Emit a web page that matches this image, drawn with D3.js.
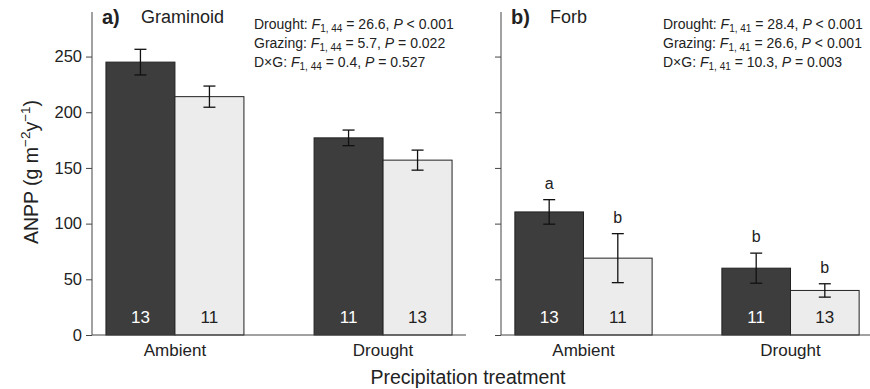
<!DOCTYPE html>
<html>
<head>
<meta charset="utf-8">
<script src="https://cdn.jsdelivr.net/npm/d3@7"></script>
<style>
  body { margin: 0; background: #fff; }
  svg { display: block; }
  text { font-family: "Liberation Sans", Arial, Helvetica, sans-serif; fill: #222; }
</style>
</head>
<body>
<div id="chart"></div>
<script>
// data
const treatments = ["Ambient", "Drought"];
const grazing = ["Grazed", "Ungrazed"];   // dark, light
const yTicks = [0, 50, 100, 150, 200, 250];

const graminoidMean = [[245, 214], [177, 157]];
const graminoidSE = [[11.5, 9.5], [7, 9]];
const graminoidN = [[13, 11], [11, 13]];

const forbMean = [[110.5, 69], [60, 40]];
const forbSE = [[11, 22], [13.5, 6]];
const forbN = [[13, 11], [11, 13]];
const forbLetters = [["a", "b"], ["b", "b"]];

const graminoidStats = [
  ["Drought:", "1, 44", "= 26.6,", "< 0.001"],
  ["Grazing:", "1, 44", "= 5.7,", "= 0.022"],
  ["D\u00d7G:", "1, 44", "= 0.4,", "= 0.527"]
];
const forbStats = [
  ["Drought:", "1, 41", "= 28.4,", "< 0.001"],
  ["Grazing:", "1, 41", "= 26.6,", "< 0.001"],
  ["D\u00d7G:", "1, 41", "= 10.3,", "= 0.003"]
];

const width = 870;
const height = 389;
const fills = ["#3d3d3d", "#ececec"];

const svg = d3.select("#chart").append("svg")
    .attr("width", width)
    .attr("height", height);

// shared y scale
const y = d3.scaleLinear().domain([0, 290]).range([335, 12]);

function panel(x0, w, mean, se, n, letters, tag, name, stats, statsX, showLabels) {
  const g = svg.append("g").attr("transform", "translate(" + x0 + ",0)");

  const x = d3.scaleBand().domain(treatments).range([0, w])
      .paddingInner(0.337).paddingOuter(0.067);
  const xs = d3.scaleBand().domain(grazing).range([0, x.bandwidth()]);

  // y axis
  const yaxis = d3.axisLeft(y).tickValues(yTicks).tickSize(6).tickPadding(4)
      .tickFormat(showLabels ? d3.format("d") : "");
  const ya = g.append("g").call(yaxis);
  ya.select(".domain").remove();
  ya.selectAll(".tick line").attr("stroke", "#444");
  ya.selectAll(".tick text").style("font-size", "16.5px").attr("fill", "#222")
      .style("font-family", "Liberation Sans, Arial, sans-serif");
  g.append("line").attr("x1", 0).attr("x2", 0)
      .attr("y1", y(290)).attr("y2", y(0)).attr("stroke", "#444");

  // bars
  const rows = [];
  treatments.forEach((t, i) => grazing.forEach((s, j) => rows.push({
    t: t, s: s, j: j, m: mean[i][j], e: se[i][j], n: n[i][j],
    l: letters ? letters[i][j] : null
  })));

  const bx = d => x(d.t) + xs(d.s);
  g.selectAll("rect.bar").data(rows).join("rect")
      .attr("class", "bar")
      .attr("x", bx)
      .attr("y", d => y(d.m))
      .attr("width", xs.bandwidth())
      .attr("height", d => y(0) - y(d.m))
      .attr("fill", d => fills[d.j])
      .attr("stroke", "#222")
      .attr("stroke-width", 1);

  // error bars
  const cx = d => bx(d) + xs.bandwidth() / 2;
  const eb = g.selectAll("g.err").data(rows).join("g").attr("class", "err")
      .attr("stroke", "#111").attr("stroke-width", 1.3);
  eb.append("line").attr("x1", cx).attr("x2", cx)
      .attr("y1", d => y(d.m + d.e)).attr("y2", d => y(d.m - d.e));
  eb.append("line").attr("x1", d => cx(d) - 6).attr("x2", d => cx(d) + 6)
      .attr("y1", d => y(d.m + d.e)).attr("y2", d => y(d.m + d.e));
  eb.append("line").attr("x1", d => cx(d) - 6).attr("x2", d => cx(d) + 6)
      .attr("y1", d => y(d.m - d.e)).attr("y2", d => y(d.m - d.e));

  // sample sizes
  g.selectAll("text.n").data(rows).join("text")
      .attr("class", "n")
      .attr("x", cx)
      .attr("y", 323)
      .attr("text-anchor", "middle")
      .style("font-size", "17px")
      .style("fill", d => d.j === 0 ? "#fff" : "#222")
      .text(d => d.n);

  // letters
  if (letters) {
    g.selectAll("text.let").data(rows).join("text")
        .attr("class", "let")
        .attr("x", cx)
        .attr("y", d => y(d.m + d.e) - 11)
        .attr("text-anchor", "middle")
        .style("font-size", "16px")
        .text(d => d.l);
  }

  // baseline
  g.append("line").attr("x1", 0).attr("x2", w)
      .attr("y1", y(0)).attr("y2", y(0)).attr("stroke", "#444");

  // x labels
  g.selectAll("text.cat").data(treatments).join("text")
      .attr("class", "cat")
      .attr("x", d => x(d) + x.bandwidth() / 2)
      .attr("y", 356)
      .attr("text-anchor", "middle")
      .style("font-size", "17px")
      .text(d => d);

  // panel title
  g.append("text").attr("x", 10).attr("y", 24)
      .style("font-size", "20px").style("font-weight", "bold").text(tag);
  g.append("text").attr("x", 49).attr("y", 23)
      .style("font-size", "18px").text(name);

  // stats
  stats.forEach((s, i) => {
    const t = g.append("text").attr("x", statsX).attr("y", 29 + i * 19)
        .style("font-size", "14px");
    t.append("tspan").text(s[0] + " ");
    t.append("tspan").style("font-style", "italic").text("F");
    t.append("tspan").attr("dy", 3).style("font-size", "10px").text(s[1]);
    t.append("tspan").attr("dy", -3).text(" " + s[2] + " ");
    t.append("tspan").style("font-style", "italic").text("P");
    t.append("tspan").text(" " + s[3]);
  });
}

panel(92, 374, graminoidMean, graminoidSE, graminoidN, null,
      "a)", "Graminoid", graminoidStats, 162, true);
panel(501, 372, forbMean, forbSE, forbN, forbLetters,
      "b)", "Forb", forbStats, 162, false);

// y axis title
svg.append("text")
    .attr("transform", "translate(38,172) rotate(-90)")
    .attr("text-anchor", "middle")
    .style("font-size", "19.5px")
    .call(t => {
      t.append("tspan").text("ANPP (g m");
      t.append("tspan").attr("dy", -8).style("font-size", "13.5px").text("\u22122");
      t.append("tspan").attr("dy", 8).text("y");
      t.append("tspan").attr("dy", -8).style("font-size", "13.5px").text("\u22121");
      t.append("tspan").attr("dy", 8).text(")");
    });

// x axis title
svg.append("text")
    .attr("x", 468).attr("y", 384)
    .attr("text-anchor", "middle")
    .style("font-size", "19.5px")
    .text("Precipitation treatment");
</script>
</body>
</html>
